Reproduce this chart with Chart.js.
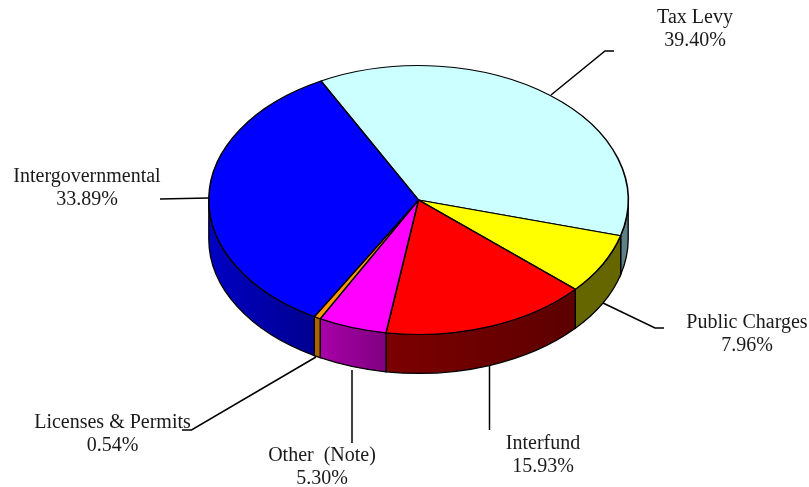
<!DOCTYPE html>
<html>
<head>
<meta charset="utf-8">
<title>Revenue sources</title>
<script src="https://cdn.jsdelivr.net/npm/chart.js@4/dist/chart.umd.min.js"></script>
<style>
  html, body { margin: 0; padding: 0; background: #fff; }
  canvas { display: block; }
</style>
</head>
<body>
<canvas id="pie" width="809" height="487"></canvas>
<script>
  var categories = ['Tax Levy', 'Public Charges', 'Interfund', 'Other  (Note)', 'Licenses & Permits', 'Intergovernmental'];
  var percentLabels = ['39.40%', '7.96%', '15.93%', '5.30%', '0.54%', '33.89%'];
  var sliceShares = [36.97, 7.28, 15.92, 5.29, 0.51, 34.03];
  var topColors = ['#ccffff', '#ffff00', '#ff0000', '#ff00ff', '#ff9900', '#0000ff'];
  var wallColors = [
    ['#5f8086', '#5f8086'],
    ['#666600', '#666600'],
    ['#7c0000', '#5c0000'],
    ['#a800a8', '#800080'],
    ['#a86400', '#a86400'],
    ['#0000c4', '#000090']
  ];

  // label anchor and leader line for each slice
  var callouts = [
    { x: 695, y: 23, leader: [[551, 95], [605, 51], [614, 51]] },
    { x: 747, y: 328, leader: [[603, 303], [655, 328], [664, 328]] },
    { x: 543, y: 449, leader: [[489.5, 366], [489.5, 430]] },
    { x: 322, y: 461, leader: [[352, 370], [352, 443]] },
    { x: 112.5, y: 428, leader: [[316, 357], [191.5, 430], [182, 430]] },
    { x: 87, y: 182, leader: [[208, 198], [160, 199]] }
  ];

  var tilt = 0.641;
  var faceCenterY = 200;
  var depth = 39;

  function drawWalls(chart, arcs) {
    var ctx = chart.ctx;
    arcs.forEach(function(arc, i) {
      var a0 = Math.max(arc.startAngle, 0);
      var a1 = Math.min(arc.endAngle, Math.PI);
      if (a1 <= a0) return;
      var rx = arc.outerRadius;
      var ry = rx * tilt;
      var x0 = arc.x + rx * Math.cos(a0);
      var x1 = arc.x + rx * Math.cos(a1);
      var grad = ctx.createLinearGradient(x1, 0, x0, 0);
      grad.addColorStop(0, wallColors[i][0]);
      grad.addColorStop(1, wallColors[i][1]);
      ctx.beginPath();
      ctx.ellipse(arc.x, faceCenterY, rx, ry, 0, a0, a1);
      ctx.ellipse(arc.x, faceCenterY + depth, rx, ry, 0, a1, a0, true);
      ctx.closePath();
      ctx.fillStyle = grad;
      ctx.fill();
      ctx.lineWidth = 1.3;
      ctx.strokeStyle = '#000';
      ctx.stroke();
    });
  }

  var tiltedPie = {
    id: 'tiltedPie',
    beforeDatasetsDraw: function(chart) {
      var arcs = chart.getDatasetMeta(0).data;
      var ctx = chart.ctx;
      drawWalls(chart, arcs);
      ctx.save();
      ctx.translate(0, faceCenterY);
      ctx.scale(1, tilt);
      ctx.translate(0, -arcs[0].y);
    },
    afterDatasetsDraw: function(chart) {
      chart.ctx.restore();
    }
  };

  var callouts3d = {
    id: 'callouts3d',
    afterDraw: function(chart) {
      var ctx = chart.ctx;
      ctx.save();
      ctx.strokeStyle = '#000';
      ctx.lineWidth = 1.5;
      callouts.forEach(function(c) {
        ctx.beginPath();
        c.leader.forEach(function(p, j) {
          if (j === 0) ctx.moveTo(p[0], p[1]);
          else ctx.lineTo(p[0], p[1]);
        });
        ctx.stroke();
      });
      ctx.fillStyle = '#1a1a1a';
      ctx.font = '20px "Liberation Serif"';
      ctx.textAlign = 'center';
      ctx.textBaseline = 'alphabetic';
      callouts.forEach(function(c, i) {
        ctx.fillText(categories[i], c.x, c.y);
        ctx.fillText(percentLabels[i], c.x, c.y + 23);
      });
      ctx.restore();
    }
  };

  new Chart(document.getElementById('pie'), {
    type: 'pie',
    data: {
      labels: categories,
      datasets: [{
        data: sliceShares,
        backgroundColor: topColors,
        borderColor: '#000',
        borderWidth: 1.6,
        hoverBorderWidth: 1.6,
        clip: false
      }]
    },
    options: {
      responsive: false,
      animation: false,
      rotation: -27.7,
      layout: { padding: { left: 208, right: 180, top: 33, bottom: 33 } },
      plugins: { legend: { display: false }, tooltip: { enabled: false } }
    },
    plugins: [tiltedPie, callouts3d]
  });
</script>
</body>
</html>
